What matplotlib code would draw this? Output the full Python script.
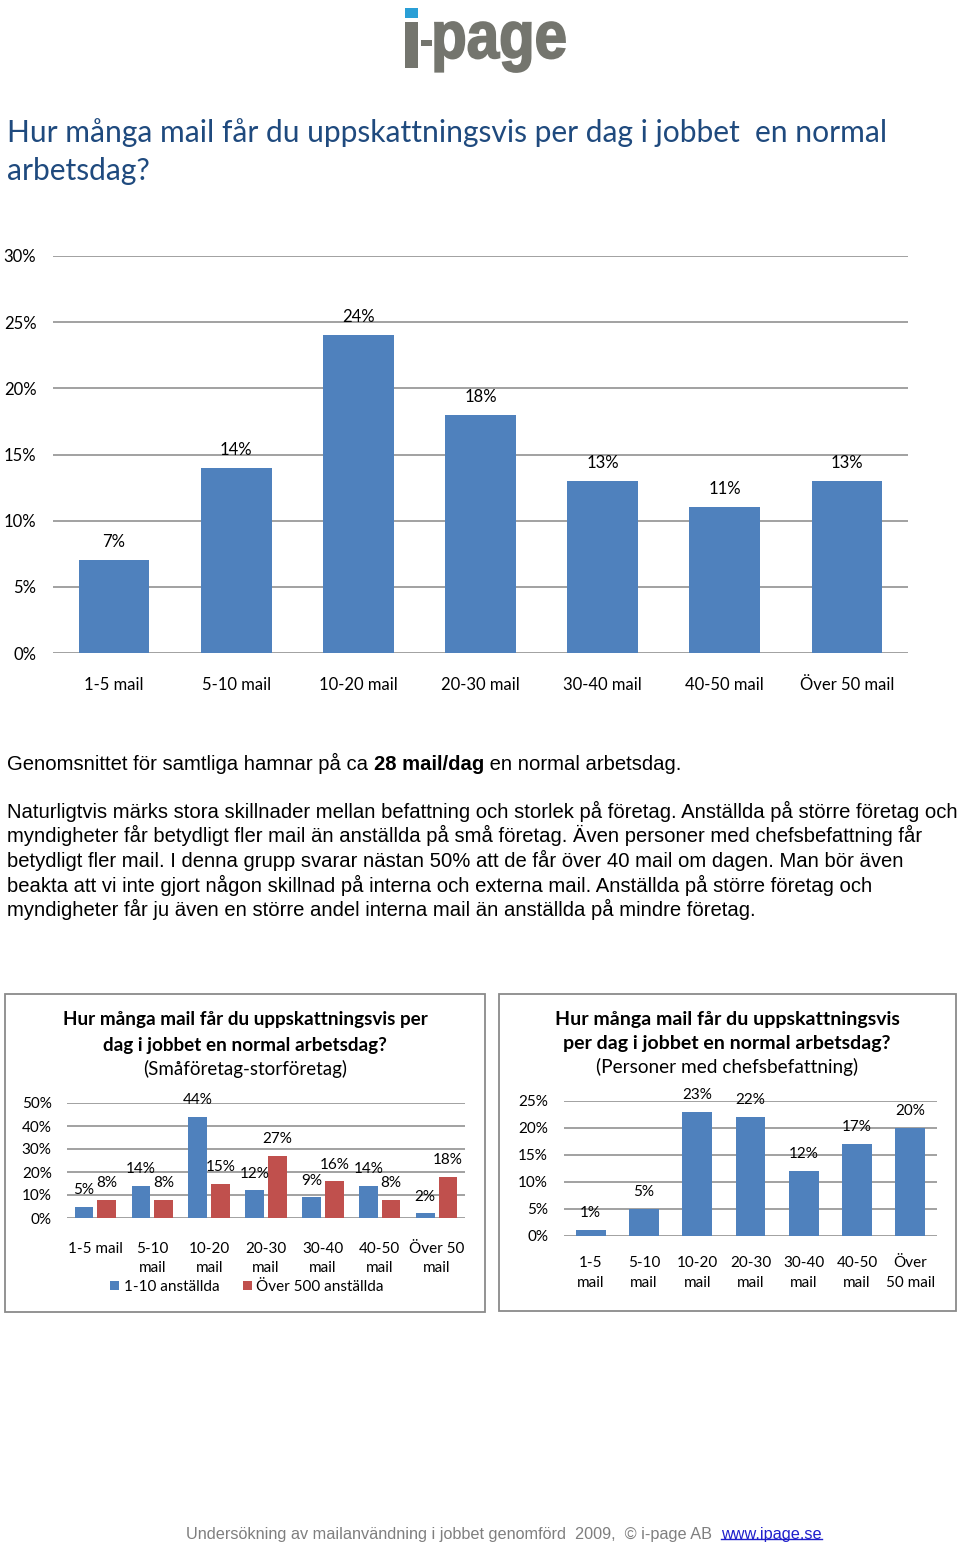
import numpy as np
import matplotlib
matplotlib.use('Agg')
import matplotlib.pyplot as plt
from matplotlib.patches import Rectangle, PathPatch
from matplotlib.lines import Line2D
from matplotlib.textpath import TextPath
from matplotlib.transforms import Affine2D
from matplotlib.font_manager import FontProperties

W, H = 960, 1545

# data
categories = ['1-5 mail', '5-10 mail', '10-20 mail', '20-30 mail',
              '30-40 mail', '40-50 mail', 'Över 50 mail']
total_pct = [7, 14, 24, 18, 13, 11, 13]

size_labels = ['1-5 mail', '5-10\nmail', '10-20\nmail', '20-30\nmail',
               '30-40\nmail', '40-50\nmail', 'Över 50\nmail']
small_firms = [5, 14, 44, 12, 9, 14, 2]
large_firms = [8, 8, 15, 27, 16, 8, 18]
size_series = ['1-10 anställda', 'Över 500 anställda']

chef_labels = ['1-5\nmail', '5-10\nmail', '10-20\nmail', '20-30\nmail',
               '30-40\nmail', '40-50\nmail', 'Över\n50 mail']
chef_pct = [1, 5, 23, 22, 12, 17, 20]

main_title = ['Hur många mail får du uppskattningsvis per dag i jobbet  en normal',
              'arbetsdag?']
body_lines = [
    'Naturligtvis märks stora skillnader mellan befattning och storlek på företag. Anställda på större företag och',
    'myndigheter får betydligt fler mail än anställda på små företag. Även personer med chefsbefattning får',
    'betydligt fler mail. I denna grupp svarar nästan 50% att de får över 40 mail om dagen. Man bör även',
    'beakta att vi inte gjort någon skillnad på interna och externa mail. Anställda på större företag och',
    'myndigheter får ju även en större andel interna mail än anställda på mindre företag.',
]

BLUE = '#4F81BD'
RED = '#C0504D'
GRID = '#878787'
LOGO_GRAY = '#74756E'
CF = 'Lato'
BF = 'Liberation Sans'
BODY_FS = 14.6

fig = plt.figure(figsize=(W / 100, H / 100), dpi=100)


def fx(x):
    return x / W


def fy(y):
    return 1 - y / H


def axes_px(left, top, right, bottom):
    return fig.add_axes([fx(left), fy(bottom), (right - left) / W, (bottom - top) / H])


def rect_px(l, t, r, b, **kw):
    fig.add_artist(Rectangle((fx(l), fy(b)), (r - l) / W, (b - t) / H,
                             transform=fig.transFigure, **kw))


def style(ax, ymax, step, labels, fs, ypad, xpad, ls=1.15):
    n = len(labels)
    ax.set_xlim(-0.5, n - 0.5)
    ax.set_ylim(0, ymax)
    ticks = np.arange(0, ymax + 0.1, step)
    ax.set_yticks(ticks)
    ax.set_yticklabels([f'{int(t)}%' for t in ticks], family=CF, fontsize=fs)
    ax.set_xticks(range(n))
    ax.set_xticklabels(labels, family=CF, fontsize=fs, linespacing=ls)
    ax.tick_params(axis='y', length=0, pad=ypad)
    ax.tick_params(axis='x', length=0, pad=xpad)
    for s in ax.spines.values():
        s.set_visible(False)
    ax.grid(axis='y', color=GRID, lw=1.1)
    ax.set_axisbelow(True)


def bar_labels(ax, xs, vals, fs, off):
    for x, v in zip(xs, vals):
        ax.annotate(f'{v}%', (x, v), xytext=(0, off), textcoords='offset points',
                    ha='center', va='center', family=CF, fontsize=fs)


# logo: blue dot, stem, hyphen and a squeezed "page"
rect_px(405, 8, 418, 18, color='#2A9FD6', lw=0)
rect_px(405, 22, 418, 68, color=LOGO_GRAY, lw=0)
rect_px(421, 40, 432, 46, color=LOGO_GRAY, lw=0)
tp = TextPath((0, 0), 'page', size=100, prop=FontProperties(family='Liberation Sans', weight='bold'))
ext = tp.get_extents()
tr = (Affine2D().translate(-ext.x0, -ext.y0)
      .scale((565 - 435) / ext.width, (72 - 22) / ext.height)
      .translate(435, H - 72).scale(1 / W, 1 / H) + fig.transFigure)
fig.add_artist(PathPatch(tp, transform=tr, fc=LOGO_GRAY, ec=LOGO_GRAY, lw=1.3))

# main title
for i, line in enumerate(main_title):
    fig.text(fx(7), fy(133 + 38 * i), line, family=CF, fontsize=21.6,
             color='#1F4A7E', ha='left', va='center')

# main chart
ax = axes_px(53, 256, 908, 653)
x = np.arange(len(categories))
ax.bar(x, total_pct, width=0.58, color=BLUE)
style(ax, 30, 5, categories, 12, 12, 17)
bar_labels(ax, x, total_pct, 12, 13)

# body text
t1 = fig.text(fx(7), fy(763), 'Genomsnittet för samtliga hamnar på ca ',
              family=BF, fontsize=BODY_FS, ha='left', va='center')
t2 = fig.add_artist(plt.Annotation('28 mail/dag', xy=(1, 0), xycoords=t1,
                                   ha='left', va='bottom', family=BF,
                                   fontsize=BODY_FS, weight='bold'))
fig.add_artist(plt.Annotation(' en normal arbetsdag.', xy=(1, 0), xycoords=t2,
                              ha='left', va='bottom', family=BF, fontsize=BODY_FS))
for i, line in enumerate(body_lines):
    fig.text(fx(7), fy(811 + 24.7 * i), line, family=BF, fontsize=BODY_FS,
             ha='left', va='center')

# frames of the two small charts
for l, t, r, b in [(5, 994, 485, 1312), (499, 994, 956, 1311)]:
    rect_px(l, t, r, b, fill=False, ec='#8A8A8A', lw=1.3)

# small chart 1: company size
fig.text(fx(245), fy(1020), 'Hur många mail får du uppskattningsvis per', family=CF,
         fontsize=13.6, weight='bold', ha='center', va='center')
fig.text(fx(245), fy(1045), 'dag i jobbet en normal arbetsdag?', family=CF,
         fontsize=13.6, weight='bold', ha='center', va='center')
fig.text(fx(245), fy(1069), '(Småföretag-storföretag)', family=CF,
         fontsize=13.5, ha='center', va='center')

ax1 = axes_px(67, 1103, 465, 1218)
xs = np.arange(len(size_labels))
b1 = ax1.bar(xs - 0.2, small_firms, width=0.33, color=BLUE, label=size_series[0])
b2 = ax1.bar(xs + 0.2, large_firms, width=0.33, color=RED, label=size_series[1])
style(ax1, 50, 10, size_labels, 11, 11, 17, ls=1.5)
bar_labels(ax1, xs - 0.2, small_firms, 11, 12)
bar_labels(ax1, xs + 0.2, large_firms, 11, 12)
ax1.legend(handles=[b1, b2], loc='center', bbox_to_anchor=(fx(247), fy(1287)),
           bbox_transform=fig.transFigure, ncol=2, frameon=False,
           handlelength=0.6, handleheight=0.6, handletextpad=0.3,
           columnspacing=1.5, prop={'family': CF, 'size': 11})

# small chart 2: managers
fig.text(fx(727), fy(1019), 'Hur många mail får du uppskattningsvis', family=CF,
         fontsize=14, weight='bold', ha='center', va='center')
fig.text(fx(727), fy(1043), 'per dag i jobbet en normal arbetsdag?', family=CF,
         fontsize=14, weight='bold', ha='center', va='center')
fig.text(fx(727), fy(1067), '(Personer med chefsbefattning)', family=CF,
         fontsize=13.7, ha='center', va='center')

ax2 = axes_px(564, 1101, 937, 1235.5)
xc = np.arange(len(chef_labels))
ax2.bar(xc, chef_pct, width=0.56, color=BLUE)
style(ax2, 25, 5, chef_labels, 11, 11.5, 15, ls=1.5)
bar_labels(ax2, xc, chef_pct, 11, 12)

# footer
fig.text(fx(721), fy(1535), 'Undersökning av mailanvändning i jobbet genomförd  2009,  © i-page AB  ',
         family=BF, fontsize=11.7, color='#7F7F7F', ha='right', va='center')
link = fig.text(fx(721), fy(1535), 'www.ipage.se', family=BF, fontsize=11.7,
                color='#1F1FCC', ha='left', va='center')
fig.canvas.draw()
bb = link.get_window_extent(fig.canvas.get_renderer()).transformed(fig.transFigure.inverted())
uy = bb.y0 + 3.5 / H
fig.add_artist(Line2D([bb.x0, bb.x1], [uy, uy], color='#1F1FCC', lw=1.0,
                      transform=fig.transFigure))

fig.savefig('out.png', dpi=100)
